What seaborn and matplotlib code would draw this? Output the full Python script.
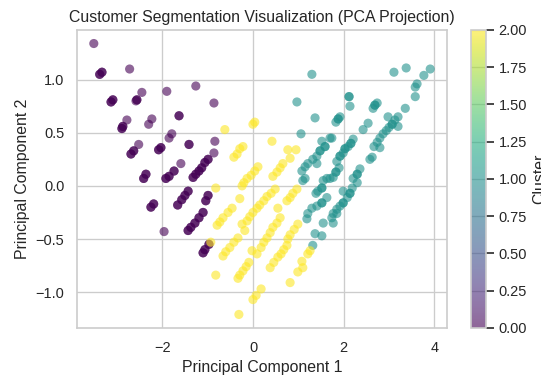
import numpy as np
import pandas as pd
import seaborn as sns
import matplotlib.pyplot as plt
from matplotlib.colors import Normalize, ListedColormap
from matplotlib.cm import ScalarMappable

# PCA coordinates (PC1, PC2) per customer, grouped by assigned cluster.
# Repeated entries are customers that project onto the same spot.
cluster0_points = [
    (-3.51, 1.34), (-3.38, 1.05), (-3.38, 1.05), (-3.33, 1.07), (-3.33, 1.07),
    (-2.72, 1.10), (-3.13, 0.79), (-3.13, 0.79), (-3.09, 0.81), (-3.09, 0.81),
    (-2.45, 0.88), (-2.56, 0.81), (-2.56, 0.81), (-2.58, 0.80), (-1.90, 0.89),
    (-1.26, 0.94), (-2.78, 0.62), (-2.87, 0.56), (-2.87, 0.56), (-2.89, 0.54),
    (-2.89, 0.54), (-2.23, 0.63), (-2.30, 0.58), (-1.63, 0.66), (-1.63, 0.66),
    (-0.86, 0.78), (-2.52, 0.39), (-2.63, 0.33), (-2.63, 0.33), (-2.69, 0.30),
    (-2.69, 0.30), (-1.79, 0.49), (-1.85, 0.45), (-2.03, 0.36), (-2.03, 0.36),
    (-2.08, 0.34), (-2.08, 0.34), (-1.41, 0.39), (-1.41, 0.39), (-0.84, 0.42),
    (-0.86, 0.31), (-1.59, 0.21), (-2.36, 0.11), (-2.36, 0.11), (-2.41, 0.07),
    (-2.41, 0.07), (-1.74, 0.14), (-1.74, 0.14), (-1.85, 0.09), (-1.85, 0.09),
    (-1.92, 0.07), (-1.92, 0.07), (-0.99, 0.25), (-0.99, 0.25), (-1.06, 0.22),
    (-1.06, 0.22), (-1.13, 0.17), (-1.13, 0.17), (-1.19, 0.14), (-1.19, 0.14),
    (-1.26, 0.11), (-1.26, 0.11), (-1.32, 0.08), (-1.32, 0.08), (-1.43, -0.05),
    (-1.43, -0.05), (-1.50, -0.09), (-1.50, -0.09), (-1.57, -0.13), (-1.57, -0.13),
    (-1.66, -0.18), (-1.66, -0.18), (-0.99, -0.09), (-0.99, -0.09), (-1.04, -0.14),
    (-1.04, -0.14), (-2.19, -0.17), (-2.19, -0.17), (-2.25, -0.20), (-2.25, -0.20),
    (-1.96, -0.43), (-1.10, -0.25), (-1.10, -0.25), (-1.19, -0.30), (-1.19, -0.30),
    (-1.28, -0.35), (-1.28, -0.35), (-1.37, -0.39), (-1.37, -0.39), (-1.43, -0.42),
    (-1.43, -0.42), (-0.97, -0.55), (-0.97, -0.55), (-1.06, -0.60), (-1.06, -0.60),
    (-1.10, -0.63), (-1.10, -0.63),
]

cluster1_points = [
    (1.30, 1.05), (3.11, 1.07), (3.38, 1.11), (3.91, 1.10), (3.77, 1.04),
    (3.62, 0.96), (3.58, 0.93), (3.58, 0.84), (2.12, 0.84), (2.12, 0.84),
    (2.14, 0.75), (0.97, 0.79), (2.74, 0.78), (2.69, 0.76), (2.69, 0.76),
    (2.65, 0.73), (3.36, 0.73), (1.37, 0.64), (1.92, 0.65), (1.88, 0.63),
    (1.88, 0.63), (1.83, 0.60), (1.06, 0.49), (2.54, 0.59), (2.43, 0.53),
    (2.98, 0.65), (3.20, 0.65), (3.13, 0.62), (3.07, 0.58), (3.07, 0.58),
    (3.00, 0.55), (2.94, 0.52), (2.87, 0.49), (3.20, 0.56), (2.80, 0.45),
    (2.74, 0.41), (2.67, 0.37), (2.80, 0.36), (2.63, 0.27), (2.58, 0.25),
    (2.21, 0.44), (2.16, 0.40), (2.16, 0.40), (2.10, 0.37), (2.03, 0.35),
    (2.03, 0.35), (1.99, 0.31), (1.92, 0.28), (1.92, 0.28), (1.85, 0.23),
    (1.74, 0.45), (1.52, 0.42), (1.59, 0.37), (1.59, 0.37), (1.48, 0.33),
    (1.48, 0.33), (1.41, 0.28), (1.32, 0.25), (1.41, 0.21), (1.70, 0.45),
    (1.90, 0.17), (1.83, 0.13), (1.83, 0.13), (1.77, 0.08), (1.70, 0.07),
    (1.63, 0.07), (2.36, 0.16), (2.30, 0.11), (2.30, 0.11), (2.21, 0.07),
    (1.21, 0.21), (1.15, 0.18), (1.08, 0.14), (1.15, 0.07), (1.10, 0.05),
    (1.55, 0.05), (1.52, -0.02), (1.52, -0.02), (1.43, -0.05), (1.39, -0.07),
    (1.63, -0.11), (1.52, -0.16), (1.52, -0.16), (1.41, -0.19), (1.30, -0.21),
    (1.21, -0.26), (1.19, -0.31), (1.55, -0.35), (1.77, -0.35), (1.85, -0.26),
    (1.37, -0.45), (1.52, -0.47), (1.32, -0.56), (2.14, -0.07), (2.14, -0.07),
    (2.08, -0.11), (1.99, -0.16), (1.99, -0.16), (1.92, -0.19), (1.85, -0.22),
    (1.77, -0.26), (1.74, -0.30), (1.99, -0.05), (2.19, -0.02), (2.30, 0.03),
]

cluster2_points = [
    (0.04, 0.60), (0.00, 0.58), (-0.62, 0.53), (0.42, 0.42), (-0.22, 0.37),
    (-0.29, 0.35), (-0.35, 0.30), (-0.42, 0.27), (0.77, 0.34), (0.95, 0.34),
    (0.82, 0.26), (0.66, 0.21), (0.60, 0.17), (0.53, 0.13), (0.44, 0.09),
    (0.11, 0.18), (0.04, 0.14), (-0.04, 0.10), (-0.13, 0.07), (-0.20, 0.03),
    (-0.24, 0.00), (-0.82, -0.02), (-0.29, -0.12), (0.49, -0.03), (0.40, -0.07),
    (0.31, -0.10), (0.24, -0.14), (0.15, -0.18), (0.09, -0.21), (0.00, -0.25),
    (-0.07, -0.29), (-0.13, -0.33), (0.97, -0.03), (0.88, -0.07), (0.82, -0.11),
    (0.75, -0.14), (0.55, -0.21), (-0.46, -0.21), (-0.55, -0.25), (-0.66, -0.30),
    (-0.73, -0.34), (-0.79, -0.37), (-0.24, -0.36), (-0.18, -0.42), (0.60, -0.30),
    (0.53, -0.35), (0.44, -0.39), (0.38, -0.44), (0.31, -0.49), (0.24, -0.53),
    (0.18, -0.58), (0.99, -0.36), (0.91, -0.41), (0.82, -0.46), (0.77, -0.50),
    (-0.33, -0.49), (-0.42, -0.53), (-0.51, -0.58), (-0.60, -0.62), (-0.66, -0.66),
    (-0.93, -0.53), (-0.02, -0.61), (0.09, -0.64), (0.75, -0.56), (0.68, -0.60),
    (0.62, -0.64), (0.55, -0.67), (0.46, -0.72), (0.38, -0.77), (-0.09, -0.72),
    (-0.15, -0.76), (-0.22, -0.80), (-0.29, -0.84), (-0.33, -0.87), (1.26, -0.61),
    (1.21, -0.64), (1.08, -0.71), (1.10, -0.77), (0.99, -0.81), (0.82, -0.91),
    (-0.82, -0.84), (0.18, -0.97), (0.07, -1.03), (0.00, -1.07), (-0.31, -1.21),
]

cluster_labels = [0, 1, 2]
x_ticks = [-2, 0, 2, 4]
y_ticks = [-1.0, -0.5, 0.0, 0.5, 1.0]
colorbar_ticks = [0.00, 0.25, 0.50, 0.75, 1.00, 1.25, 1.50, 1.75, 2.00]
point_alpha = 0.6

rows = []
for label, pts in zip(cluster_labels, (cluster0_points, cluster1_points, cluster2_points)):
    for x, y in pts:
        rows.append((x, y, label))
df = pd.DataFrame(rows, columns=["PC1", "PC2", "Cluster"])

sns.set_theme(style="whitegrid")
plt.rcParams["font.family"] = ["Liberation Sans", "DejaVu Sans"]

DPI = 95
fig = plt.figure(figsize=(541 / DPI, 378 / DPI), dpi=DPI)
ax = fig.add_axes([0.1423, 0.1323, 0.684, 0.7884])
cax = fig.add_axes([0.8706, 0.1323, 0.0277, 0.7884])

sns.scatterplot(
    data=df, x="PC1", y="PC2", hue="Cluster", palette="viridis",
    hue_norm=(0, 2), alpha=point_alpha, s=48, edgecolor="none", linewidth=0,
    legend=False, ax=ax,
)

ax.set_xticks(x_ticks)
ax.set_yticks(y_ticks)
ax.set_title("Customer Segmentation Visualization (PCA Projection)")
ax.set_xlabel("Principal Component 1")
ax.set_ylabel("Principal Component 2")

# Colour bar using the same translucent viridis as the points
base = plt.get_cmap("viridis")(np.linspace(0, 1, 256))
base[:, 3] = point_alpha
translucent = ListedColormap(base)
sm = ScalarMappable(norm=Normalize(0, 2), cmap=translucent)
cbar = fig.colorbar(sm, cax=cax)
cbar.set_ticks(colorbar_ticks)
cbar.ax.yaxis.set_major_formatter(plt.FormatStrFormatter("%.2f"))
cbar.set_label("Cluster")

fig.savefig("out.png", dpi=DPI)
